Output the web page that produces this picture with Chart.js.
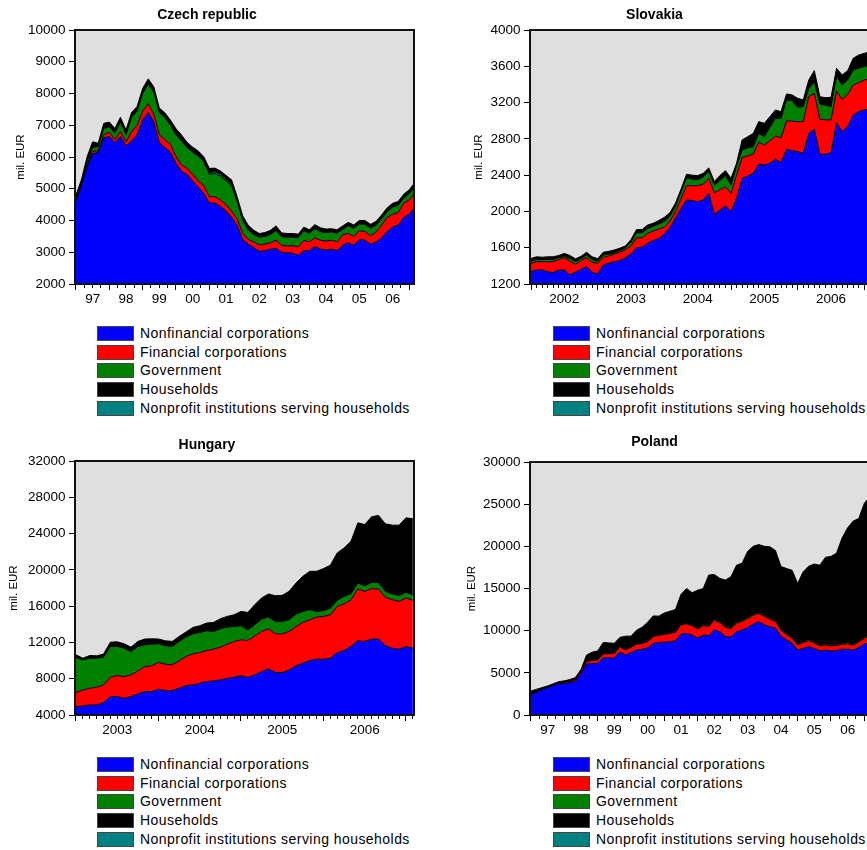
<!DOCTYPE html>
<html>
<head>
<meta charset="utf-8">
<script src="https://cdn.jsdelivr.net/npm/chart.js@4.4.1/dist/chart.umd.min.js"></script>
<style>
  html, body { margin: 0; padding: 0; background: #fff; width: 867px; height: 850px; overflow: hidden; position: relative; }
  canvas { position: absolute; }
  .leg { position: absolute; font: 14px "Liberation Sans", Arial, sans-serif; letter-spacing: .45px; color: #000; }
  .row { position: absolute; left: 0; height: 19px; line-height: 19px; white-space: nowrap; }
  .box { position: absolute; left: 0; top: 2px; width: 35px; height: 13px; border: 1px solid #444; }
  .row span { position: absolute; left: 43px; }
</style>
</head>
<body>
<script>
// legend order as in the picture
const seriesNames = ['Nonfinancial corporations', 'Financial corporations', 'Government', 'Households', 'Nonprofit institutions serving households'];
const seriesColors = ['#0000ff', '#ff0000', '#008000', '#000000', '#008080'];

// Czech republic, every 2nd month from 1997M01 (mil. EUR)
const czNonfin = [4600,5100,5700,6100,6150,6600,6650,6450,6650,6350, 6500,6700,7170,7400,7100,6450,6300,6150,5800,5550, 5450,5250,5050,4850,4550,4550,4450,4300,4100,3850, 3400,3250,3150,3030,3050,3100,3120,3000,2980,2970, 2900,3050,3050,3180,3100,3070,3100,3050,3220,3300, 3220,3400,3380,3250,3320,3450,3650,3800,3850,4100, 4200,4420];
const czFin = [50,50,50,80,50,100,130,100,150,130, 300,300,280,280,250,250,250,250,210,200, 200,200,200,250,200,200,200,200,200,200, 200,150,180,200,210,200,260,220,220,240, 270,330,280,270,280,280,280,280,330,300, 280,280,270,270,320,400,450,400,400,450, 450,460];
const czGov = [70,50,100,120,130,200,170,200,300,220, 450,450,550,620,700,700,700,600,690,750, 650,700,780,750,700,730,750,750,800,550, 400,300,230,240,240,260,300,270,270,260, 290,300,270,290,270,270,260,270,170,230, 250,210,230,240,210,200,180,220,230,150, 200,170];
const czHouse = [70,90,150,170,90,150,140,140,140,140, 140,130,150,150,150,130,130,150,180,180, 150,150,150,150,140,110,100,120,140,140, 140,140,120,110,110,120,140,110,110,110, 100,100,100,120,110,100,90,100,100,100, 100,100,110,110,110,110,110,110,110,120, 110,140];
const czNpish = [10,10,10,10,10,10,10,10,10,10, 10,10,10,10,10,10,10,10,10,10, 10,10,10,10,50,60,60,50,40,10, 10,10,10,10,10,10,10,10,10,10, 10,10,10,10,10,10,10,10,10,10, 10,10,10,10,10,10,10,10,10,10, 10,10];

// Slovakia, monthly from 2002M01
const skNonfin = [1336,1355,1355,1336,1325,1355,1355,1300,1330,1360, 1392,1330,1310,1410,1428,1447,1457,1490,1530,1600, 1605,1650,1680,1700,1750,1820,1925,2035,2126,2120, 2108,2126,2200,1968,2016,2060,2000,2145,2365,2390, 2420,2520,2512,2530,2575,2540,2685,2670,2659,2640, 2860,2905,2630,2630,2648,2978,2880,2935,3063,3100, 3118,3130];
const skFin = [92,92,92,109,122,115,135,150,87,100, 98,110,118,84,82,83,93,90,90,110, 105,110,105,105,80,70,75,105,158,164, 176,174,165,239,224,213,200,255,228,223, 213,242,220,250,256,272,315,325,331,350, 405,396,385,380,360,349,356,356,331,320, 331,330];
const skGov = [26,23,23,25,23,20,17,30,30,20, 30,30,22,26,20,15,20,20,40,55, 55,50,50,55,60,60,60,75,86,71, 66,80,75,83,100,122,90,100,84,87, 81,98,92,150,195,214,228,225,158,165, 90,129,170,160,147,163,158,158,165,160, 147,150];
const skHouse = [28,30,25,30,30,25,30,35,30,25, 30,30,30,30,30,30,25,20,30,35, 35,40,35,40,45,35,30,30,40,45, 45,40,40,40,55,55,75,30,111,124, 146,130,147,115,92,74,67,64,100,73, 94,122,80,84,103,87,110,103,129,144, 147,150];
const skNpish = [0,0,0,0,0,0,0,0,0,0, 0,0,0,0,0,0,0,0,0,0, 0,0,0,0,0,0,0,0,0,0, 0,0,0,0,0,0,0,0,0,0, 0,0,0,0,0,0,0,0,0,0, 0,0,0,0,0,0,0,0,0,0, 0,0];

// Hungary, monthly from 2003M01
const huNonfin = [4920,5000,5110,5110,5360,6030,6030,5840,6030,6320, 6580,6580,6840,6690,6690,6950,7240,7320,7500,7690, 7760,7870,8050,8160,8310,8160,8420,8790,9090,8680, 8680,8970,9420,9710,10010,10150,10150,10260,10890,11110, 11550,12180,12110,12370,12370,11630,11370,11260,11550,11370];
const huFin = [1550,1770,1840,1950,1960,2130,2320,2400,2390,2540, 2760,2840,2950,2910,2840,3020,3210,3420,3390,3420, 3500,3610,3760,3950,3980,4060,4310,4420,4410,4270, 4270,4240,4340,4500,4490,4650,4720,4790,5080,5160, 5160,5710,5520,5560,5520,5340,5340,5270,5350,5270];
const huGov = [3870,3310,3310,3200,3050,3390,3200,3130,2580,2690, 2400,2390,2060,2030,2020,2140,2140,2210,2210,2170, 1950,2020,1880,1650,1550,1170,1220,1360,1300,1370, 1370,1290,1370,1210,1110,620,630,740,670,810, 660,660,620,690,730,660,630,660,620,620];
const huHouse = [290,180,300,260,340,480,520,480,480,560, 630,590,520,550,560,550,550,700,740,850, 1000,1110,1180,1290,1580,1920,2210,2330,2540,2830, 2870,3130,3420,3870,4230,4420,4640,4720,5230,5340, 5790,6630,6750,7230,7380,7440,7590,7740,8220,8370];
const huNpish = [0,0,0,0,0,0,0,0,0,0, 0,0,0,0,0,0,0,0,0,0, 0,0,0,0,0,0,0,0,0,0, 0,0,0,0,0,0,0,0,0,0, 0,0,0,0,0,0,0,0,0,0];

// Poland, every 2nd month from 1997M01
const plNonfin = [2450,2700,3000,3250,3500,3700,3750,3870,4000,4900, 6040,6120,6120,6790,6780,6750,7500,7100,7400,7700, 7800,7950,8490,8600,8650,8680,8800,9600,9670,9500, 9100,9500,9400,10100,9870,9300,9250,9870,10060,10380, 10780,11050,10700,10460,10300,9350,8900,8500,7700,7900, 8100,7900,7600,7700,7600,7650,7800,7800,7700,8000, 8400,8600];
const plFin = [30,40,50,60,80,100,120,150,200,250, 300,350,400,450,500,550,600,600,650,700, 700,750,800,850,900,1000,1000,1100,1150,1100, 1100,1100,1100,1150,1100,1100,1000,1000,1050,1050, 1050,1000,1000,900,800,700,650,600,600,700, 700,650,600,600,600,600,600,650,600,650, 700,800];
const plGov = [30,30,30,30,30,30,30,30,30,30, 30,30,80,80,80,80,80,80,80,80, 80,80,80,80,80,80,80,80,80,80, 150,150,150,150,150,150,150,150,150,150, 150,150,150,150,150,150,150,150,150,150, 150,150,150,150,150,150,150,150,150,150, 150,150];
const plHouse = [330,280,170,110,90,120,150,150,220,220, 730,950,1000,1280,1190,1120,1020,1570,1220,1580, 1820,2220,2380,2190,2470,2540,2620,3520,4100,3820, 4450,4250,5950,5250,5080,5450,6000,6740,6740,7820, 8020,8010,8150,8440,8250,7400,7670,7900,7150,8250, 8700,9200,9410,10250,10450,10800,12450,13600,14550,14500, 15850,16350];
const plNpish = [0,0,0,0,0,0,0,0,0,0, 0,0,0,0,0,0,0,0,0,0, 0,0,0,0,0,0,0,0,0,0, 0,0,0,0,0,0,0,0,0,0, 0,0,0,0,0,0,0,0,0,0, 0,0,0,0,0,0,0,0,0,0, 0,0];

const FONT = '"Liberation Sans", Arial, sans-serif';

const panels = [
  { title: 'Czech republic', left: 0, top: 0, w: 477, h: 312, axisW: 75, padR: 63, tPad: [6.6, 6.6], yTitlePad: 13.9,
    yMin: 2000, yMax: 10000, yStep: 1000, xMin: 1996.97, xMax: 2007.14, minorMonths: 3, shortYears: true,
    start: 1997, stepMonths: 2, series: [czNonfin, czFin, czGov, czHouse, czNpish], legend: [97, 323.8] },
  { title: 'Slovakia', left: 440, top: 0, w: 501, h: 312, axisW: 90, padR: 72, tPad: [6.3, 6.9], yTitlePad: 32,
    yMin: 1200, yMax: 4000, yStep: 400, xMin: 2001.985, xMax: 2007.07, minorMonths: 1, shortYears: false,
    start: 2002, stepMonths: 1, series: [skNonfin, skFin, skGov, skHouse, skNpish], legend: [553, 323.8] },
  { title: 'Hungary', left: 0, top: 430, w: 485, h: 313, axisW: 75, padR: 71, tPad: [7, 7.2], yTitlePad: 7.3,
    yMin: 4000, yMax: 32000, yStep: 4000, xMin: 2002.988, xMax: 2007.097, minorMonths: 1, shortYears: false,
    start: 2003, stepMonths: 1, series: [huNonfin, huFin, huGov, huHouse, huNpish], legend: [97, 754.8] },
  { title: 'Poland', left: 440, top: 430, w: 538, h: 313, axisW: 90, padR: 109, tPad: [3.9, 11.3], yTitlePad: 25,
    yMin: 0, yMax: 30000, yStep: 5000, xMin: 1996.97, xMax: 2007.14, minorMonths: 3, shortYears: true,
    start: 1997, stepMonths: 2, series: [plNonfin, plFin, plGov, plHouse, plNpish], legend: [553, 754.8] }
];

// grey plot background and black frame round the plot area
const framePlugin = {
  id: 'frame',
  beforeDatasetsDraw(chart) {
    const { ctx, chartArea: a } = chart;
    ctx.save();
    ctx.fillStyle = '#dfdfdf';
    ctx.fillRect(a.left, a.top, a.width, a.height);
    ctx.restore();
  },
  afterDatasetsDraw(chart) {
    const { ctx, chartArea: a } = chart;
    ctx.save();
    ctx.strokeStyle = '#111';
    ctx.lineWidth = 2;
    ctx.strokeRect(a.left, a.top, a.width, a.height);
    ctx.restore();
  }
};

function periods(startYear, count, stepMonths) {
  return Array.from({ length: count }, (_, i) => startYear + i * stepMonths / 12);
}

function isMajor(v) { return Math.abs(v - Math.round(v)) < 1e-6; }
function isMid(v) { return Math.abs(v - Math.floor(v + 1e-9) - 0.5) < 1e-6; }

function makeChart(p) {
  const cv = document.createElement('canvas');
  cv.width = p.w; cv.height = p.h;
  cv.style.left = p.left + 'px';
  cv.style.top = p.top + 'px';
  document.body.appendChild(cv);

  const xs = periods(p.start, p.series[0].length, p.stepMonths);
  // stacking order: nonprofit sits between government and households
  const stackOrder = [0, 1, 2, 4, 3];
  const datasets = stackOrder.map((si, i) => ({
    label: seriesNames[si],
    data: p.series[si].map((v, j) => ({ x: xs[j], y: v })),
    backgroundColor: seriesColors[si],
    borderColor: '#000',
    borderWidth: 1,
    borderJoinStyle: 'bevel',
    fill: i === 0 ? 'origin' : '-1',
    pointRadius: 0,
    tension: 0
  }));

  const tickVals = [];
  for (let m = 0; ; m += p.minorMonths) {
    const v = Math.floor(p.xMin) + m / 12;
    if (v > p.xMax) break;
    if (v >= p.xMin) tickVals.push(v);
  }

  new Chart(cv, {
    type: 'line',
    data: { datasets },
    options: {
      responsive: false,
      animation: false,
      events: [],
      layout: { padding: { left: 0, right: p.padR, top: 0, bottom: 0 } },
      plugins: {
        legend: { display: false },
        tooltip: { enabled: false },
        title: {
          display: true, text: p.title, color: '#000',
          font: { family: FONT, size: 14, weight: 'bold', lineHeight: 1.2 },
          padding: { top: p.tPad[0], bottom: p.tPad[1] }
        }
      },
      scales: {
        x: {
          type: 'linear', min: p.xMin, max: p.xMax,
          afterBuildTicks: s => { s.ticks = tickVals.map(v => ({ value: v })); },
          afterFit: s => { s.height = 28; },
          ticks: {
            autoSkip: false, maxRotation: 0, minRotation: 0, padding: 1, color: '#000',
            font: { family: FONT, size: 13.5 },
            callback: v => {
              if (!isMid(v)) return '';
              const y = Math.floor(v);
              return p.shortYears ? String(y % 100).padStart(2, '0') : String(y);
            }
          },
          grid: {
            drawOnChartArea: false, tickLength: 6, tickColor: '#000', tickWidth: 1,
            tickBorderDash: ctx => (ctx.tick && isMajor(ctx.tick.value)) ? [] : [3, 20]
          },
          border: { color: '#000', width: 1 }
        },
        y: {
          stacked: true, min: p.yMin, max: p.yMax,
          afterFit: s => { s.width = p.axisW; },
          ticks: {
            stepSize: p.yStep, padding: 3.5, color: '#000',
            font: { family: FONT, size: 13.5 },
            callback: v => String(v)
          },
          grid: { drawOnChartArea: false, tickLength: 6, tickColor: '#000' },
          border: { color: '#000', width: 1 },
          title: {
            display: true, text: 'mil. EUR', color: '#000',
            font: { family: FONT, size: 11.5, lineHeight: 1.2 },
            padding: { top: p.yTitlePad, bottom: 0 }
          }
        }
      }
    },
    plugins: [framePlugin]
  });
}

function makeLegend(left, top) {
  const d = document.createElement('div');
  d.className = 'leg';
  d.style.left = left + 'px';
  d.style.top = top + 'px';
  seriesNames.forEach((name, i) => {
    const row = document.createElement('div');
    row.className = 'row';
    row.style.top = (i * 18.75) + 'px';
    const box = document.createElement('div');
    box.className = 'box';
    box.style.background = seriesColors[i];
    const label = document.createElement('span');
    label.textContent = name;
    row.appendChild(box);
    row.appendChild(label);
    d.appendChild(row);
  });
  document.body.appendChild(d);
}

panels.forEach(p => {
  makeChart(p);
  makeLegend(p.legend[0], p.legend[1]);
});
</script>
</body>
</html>
